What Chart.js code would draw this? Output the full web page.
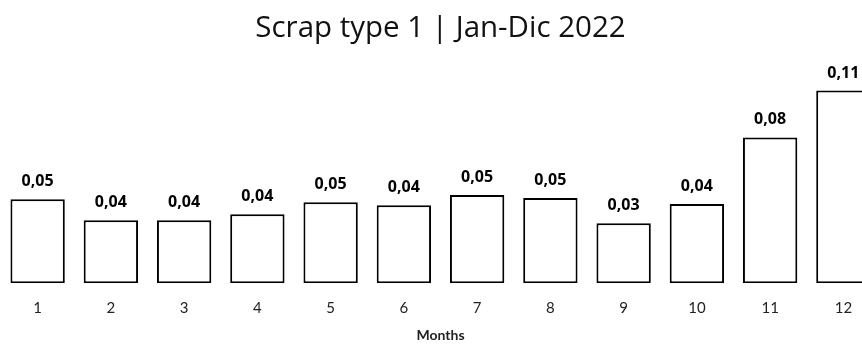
<!DOCTYPE html>
<html lang="en">
<head>
  <meta charset="UTF-8">
  <title>Scrap type 1</title>
  <script src="https://cdn.jsdelivr.net/npm/chart.js"></script>
  <style>
    html, body { margin: 0; padding: 0; background: #fff; overflow: hidden; }
    #wrap { width: 862px; height: 345px; overflow: hidden; }
  </style>
</head>
<body>
  <div id="wrap">
    <canvas id="scrapChart" width="881" height="345"></canvas>
  </div>

  <script>
    // months 1..12, scrap ratio per month
    const months = ['1', '2', '3', '4', '5', '6', '7', '8', '9', '10', '11', '12'];
    const scrapValues = [0.0474, 0.0355, 0.0355, 0.0389, 0.0457, 0.0440, 0.0497, 0.0480, 0.0338, 0.0446, 0.0822, 0.1086];

    // draws the value above each bar, with comma as decimal sign
    const barLabels = {
      id: 'barLabels',
      afterDatasetsDraw(chart) {
        const ctx = chart.ctx;
        const meta = chart.getDatasetMeta(0);
        ctx.save();
        ctx.font = 'bold 16px "Open Sans"';
        ctx.fillStyle = '#000';
        ctx.textAlign = 'center';
        ctx.textBaseline = 'alphabetic';
        meta.data.forEach((bar, i) => {
          const txt = scrapValues[i].toFixed(2).replace('.', ',');
          ctx.fillText(txt, bar.x, bar.y - 13);
        });
        ctx.restore();
      }
    };

    var ctx = document.getElementById('scrapChart').getContext('2d');
    var scrapChart = new Chart(ctx, {
      type: 'bar',
      data: {
        labels: months,
        datasets: [{
          label: 'Scrap type 1',
          data: scrapValues,
          backgroundColor: '#fff',
          borderColor: '#000',
          borderWidth: 2,
          borderSkipped: false,
          categoryPercentage: 1,
          barPercentage: 0.742
        }]
      },
      options: {
        responsive: false,
        animation: false,
        layout: { padding: { left: 1, right: 1, top: 0, bottom: 0 } },
        scales: {
          x: {
            grid: { display: false },
            border: { display: false },
            ticks: {
              color: '#222',
              font: { family: 'Lato', size: 15 },
              padding: 8
            },
            title: {
              display: true,
              text: 'Months',
              color: '#222',
              font: { family: 'Lato', size: 14, weight: 'bold' },
              padding: { top: 2, bottom: 1 }
            }
          },
          y: {
            display: false,
            min: 0,
            max: 0.129
          }
        },
        plugins: {
          legend: { display: false },
          tooltip: { enabled: false },
          title: {
            display: true,
            text: 'Scrap type 1 | Jan-Dic 2022',
            color: '#111',
            font: { family: 'Open Sans', size: 29.5, weight: 'normal' },
            padding: { top: 11, bottom: 8 }
          }
        }
      },
      plugins: [barLabels]
    });
  </script>
</body>
</html>
